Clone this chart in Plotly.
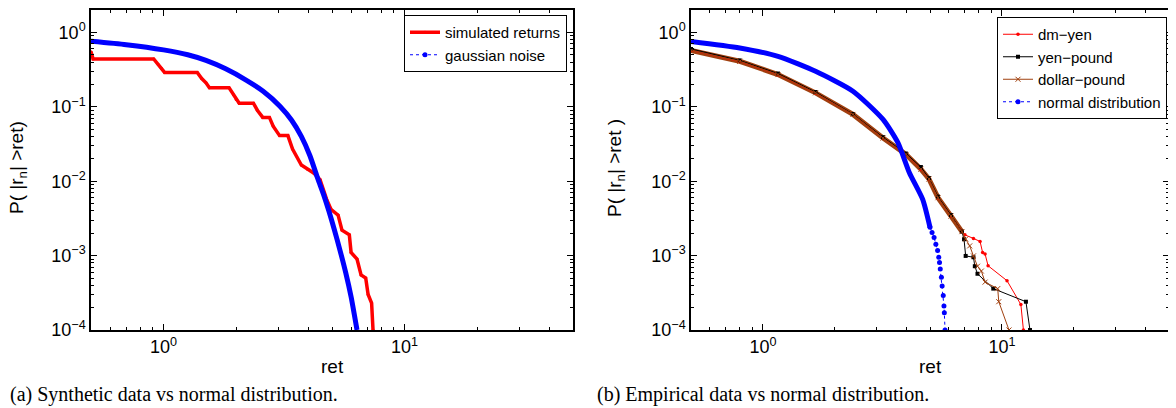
import plotly.graph_objects as go

# ---------------- data ----------------
# Panel (a): synthetic returns vs gaussian noise
sim_x = [0.5, 0.505, 0.51, 0.91, 0.95, 0.98, 1.01, 1.38, 1.44, 1.50, 1.55, 1.87, 1.95, 2.0, 2.06,
         2.36, 2.45, 2.58, 2.75, 2.85, 3.03, 3.28, 3.43, 3.73, 3.96, 4.21, 4.46, 4.75, 4.95, 5.3,
         5.5, 5.9, 6.0, 6.35, 6.6, 6.9, 7.06, 7.3, 7.4]
sim_p = [0.55, 0.50, 0.44, 0.44, 0.37, 0.33, 0.29, 0.29, 0.24, 0.21, 0.18, 0.18, 0.145, 0.125, 0.112,
         0.112, 0.09, 0.072, 0.072, 0.055, 0.041, 0.041, 0.027, 0.0165, 0.0145, 0.0128, 0.0105, 0.0057,
         0.0042, 0.0035, 0.0022, 0.0019, 0.0011, 0.0009, 0.00055, 0.0005, 0.0003, 0.00023, 0.0001]

gauss_x = [0.5, 0.7, 1.0, 1.26, 1.5, 1.81, 2.2, 2.59, 3.04, 3.4, 3.73, 4.05, 4.37, 4.6, 4.85,
           5.1, 5.4, 5.7, 6.0, 6.35]
gauss_p = [0.76, 0.684, 0.582, 0.50, 0.42, 0.324, 0.229, 0.162, 0.102, 0.066, 0.040, 0.022, 0.0107,
           0.0068, 0.0040, 0.0023, 0.00117, 0.00059, 0.00028, 0.0001]

# Panel (b): empirical FX returns vs normal distribution
dmyen_x = [0.5, 0.8, 1.156, 1.66, 2.38, 3.18, 3.97, 4.58, 4.95, 5.4, 6.12, 6.8, 7.0, 7.6, 8.1,
           8.3, 8.5, 8.75, 10.5, 12.0, 12.3]
dmyen_p = [0.57, 0.405, 0.27, 0.153, 0.079, 0.038, 0.0229, 0.0145, 0.0107, 0.006, 0.0034, 0.0021,
           0.0019, 0.0017, 0.00155, 0.0011, 0.00105, 0.00073, 0.00046, 0.00022, 0.0001]

yenpound_x = [0.5, 0.8, 1.156, 1.66, 2.38, 3.18, 3.97, 4.58, 4.95, 5.4, 6.12, 6.8, 6.94, 7.05,
              7.6, 7.7, 7.9, 9.2, 12.6, 13.1]
yenpound_p = [0.60, 0.42, 0.28, 0.158, 0.080, 0.039, 0.0235, 0.0155, 0.011, 0.0062, 0.0035, 0.0021,
              0.00166, 0.00099, 0.00095, 0.00072, 0.00057, 0.00036, 0.00024, 0.0001]

dollarpound_x = [0.5, 0.8, 1.156, 1.66, 2.38, 3.18, 3.97, 4.58, 4.95, 5.4, 6.12, 6.8, 7.05, 7.33,
                 7.6, 7.9, 8.2, 8.5, 9.6, 9.7, 10.7]
dollarpound_p = [0.57, 0.409, 0.271, 0.154, 0.079, 0.038, 0.0229, 0.0145, 0.0107, 0.006, 0.0034,
                 0.0021, 0.00167, 0.00135, 0.00099, 0.00072, 0.00062, 0.00044, 0.00036, 0.00024, 0.0001]

normal_x = [0.5, 0.8, 1.156, 1.66, 2.38, 3.18, 3.67, 4.10, 4.66, 5.0]
normal_p = [0.757, 0.618, 0.477, 0.30, 0.162, 0.0676, 0.0329, 0.0130, 0.0057, 0.0024]
normal_tail_x = [5.0, 5.10, 5.2, 5.29, 5.38, 5.44, 5.48, 5.52, 5.58, 5.62, 5.68, 5.72, 5.74, 5.78]
normal_tail_p = [0.0024, 0.00204, 0.00175, 0.00142, 0.00117, 0.00095, 0.00081, 0.00066, 0.00051,
                 0.00039, 0.00029, 0.00021, 0.00017, 0.0001]

# ticks
x_major = [1, 10]
x_major_text = ["10<sup>0</sup>", "10<sup>1</sup>"]
x_minor = [0.6, 0.7, 0.8, 0.9, 2, 3, 4, 5, 6, 7, 8, 9, 20, 30, 40]
y_major = [1e-4, 1e-3, 1e-2, 1e-1, 1]
y_major_text = ["10<sup>−4</sup>", "10<sup>−3</sup>", "10<sup>−2</sup>", "10<sup>−1</sup>", "10<sup>0</sup>"]
y_minor = [k * 10 ** d for d in range(-4, 0) for k in range(2, 10)] + [2]

captions = ["(a) Synthetic data vs normal distribution.", "(b) Empirical data vs normal distribution."]
ytitles = ["P( |r<sub>n</sub>| >ret)", "P( |r<sub>n</sub>| >ret )"]

# ---------------- figure ----------------
# the page body has an 8px margin, so the figure is 8px smaller and all
# screen positions below are shifted by -8
OFF = 8
W, H = 1176 - OFF, 408 - OFF
fig = go.Figure()

RED = "#ff0000"
BLUE = "#0000ff"
BROWN = "#a0400f"
N_BAND = 12  # dense part of the dollar-pound curve drawn as a thick band

# Panel (a)
fig.add_trace(go.Scatter(x=sim_x, y=sim_p, mode="lines+markers", name="simulated returns",
                         line=dict(color=RED, width=3.5), marker=dict(size=3, color=RED),
                         xaxis="x", yaxis="y", legend="legend"))
fig.add_trace(go.Scatter(x=gauss_x, y=gauss_p, mode="lines", showlegend=False,
                         line=dict(color=BLUE, width=5, shape="spline", smoothing=0.6),
                         xaxis="x", yaxis="y"))
fig.add_trace(go.Scatter(x=[None], y=[None], mode="lines+markers", name="gaussian noise",
                         line=dict(color=BLUE, width=1, dash="dot"), marker=dict(size=5, color=BLUE),
                         xaxis="x", yaxis="y", legend="legend"))

# Panel (b)
fig.add_trace(go.Scatter(x=dollarpound_x[:N_BAND], y=dollarpound_p[:N_BAND], mode="lines", showlegend=False,
                         line=dict(color=BROWN, width=5), xaxis="x2", yaxis="y2"))
fig.add_trace(go.Scatter(x=dmyen_x, y=dmyen_p, mode="lines+markers", name="dm−yen",
                         line=dict(color=RED, width=1), marker=dict(size=3.5, color=RED),
                         xaxis="x2", yaxis="y2", legend="legend2"))
fig.add_trace(go.Scatter(x=yenpound_x, y=yenpound_p, mode="lines+markers", name="yen−pound",
                         line=dict(color="black", width=1), marker=dict(size=4, color="black", symbol="square"),
                         xaxis="x2", yaxis="y2", legend="legend2"))
fig.add_trace(go.Scatter(x=dollarpound_x, y=dollarpound_p, mode="lines+markers", name="dollar−pound",
                         line=dict(color=BROWN, width=1), marker=dict(size=5, color=BROWN, symbol="x-thin",
                                                                      line=dict(color=BROWN, width=1)),
                         xaxis="x2", yaxis="y2", legend="legend2"))
fig.add_trace(go.Scatter(x=normal_x, y=normal_p, mode="lines", showlegend=False,
                         line=dict(color=BLUE, width=5, shape="spline", smoothing=0.6),
                         xaxis="x2", yaxis="y2"))
fig.add_trace(go.Scatter(x=normal_tail_x, y=normal_tail_p, mode="lines+markers", name="normal distribution",
                         line=dict(color=BLUE, width=1, dash="dot"), marker=dict(size=5, color=BLUE),
                         xaxis="x2", yaxis="y2", legend="legend2"))


def px(x):
    return (x - OFF) / W


def py(y):
    return 1 - (y - OFF) / H


ydom = [py(330), py(10)]
xdom1 = [px(91), px(573)]
xdom2 = [px(691), px(1169)]

tickfont = dict(family="Liberation Sans, Arial, sans-serif", size=18, color="black")


def xax(domain, anchor):
    return dict(type="log", domain=domain, anchor=anchor, range=[-0.30103, 1.69897],
                tickmode="array", tickvals=x_major, ticktext=x_major_text,
                ticks="inside", ticklen=6, tickwidth=1, tickcolor="black",
                minor=dict(tickmode="array", tickvals=x_minor, ticks="inside", ticklen=3,
                           tickcolor="black", showgrid=False),
                showline=True, linecolor="black", linewidth=1.5, mirror="ticks",
                showgrid=False, zeroline=False, tickfont=tickfont, automargin=False)


def yax(anchor):
    return dict(type="log", domain=ydom, anchor=anchor, range=[-4, 0.30103],
                tickmode="array", tickvals=y_major, ticktext=y_major_text,
                ticks="inside", ticklen=6, tickwidth=1, tickcolor="black",
                minor=dict(tickmode="array", tickvals=y_minor, ticks="inside", ticklen=3,
                           tickcolor="black", showgrid=False),
                showline=True, linecolor="black", linewidth=1.5, mirror="ticks",
                showgrid=False, zeroline=False, tickfont=tickfont, automargin=False)


legfont = dict(family="Liberation Sans, Arial, sans-serif", size=15, color="black")
labfont = dict(family="Liberation Sans, Arial, sans-serif", size=19, color="black")
capfont = dict(family="Liberation Serif, Times New Roman, serif", size=20, color="black")

annotations = [
    dict(text="ret", x=(xdom1[0] + xdom1[1]) / 2, y=py(366), xref="paper", yref="paper",
         showarrow=False, font=labfont, xanchor="center", yanchor="middle"),
    dict(text="ret", x=(xdom2[0] + xdom2[1]) / 2, y=py(366), xref="paper", yref="paper",
         showarrow=False, font=labfont, xanchor="center", yanchor="middle"),
    dict(text=ytitles[0], x=px(18), y=py(168), xref="paper", yref="paper", textangle=-90,
         showarrow=False, font=labfont, xanchor="center", yanchor="middle"),
    dict(text=ytitles[1], x=px(616), y=py(168), xref="paper", yref="paper", textangle=-90,
         showarrow=False, font=labfont, xanchor="center", yanchor="middle"),
    dict(text=captions[0], x=0, y=py(394), xref="paper", yref="paper",
         showarrow=False, font=capfont, xanchor="left", yanchor="middle"),
    dict(text=captions[1], x=px(595), y=py(394), xref="paper", yref="paper",
         showarrow=False, font=capfont, xanchor="left", yanchor="middle"),
]

fig.update_layout(
    width=W, height=H, margin=dict(l=0, r=0, t=0, b=0),
    paper_bgcolor="white", plot_bgcolor="white",
    xaxis=xax(xdom1, "y"), yaxis=yax("x"),
    xaxis2=xax(xdom2, "y2"), yaxis2=yax("x2"),
    legend=dict(x=px(567), y=py(15), xanchor="right", yanchor="top", bgcolor="white",
                bordercolor="black", borderwidth=1, font=legfont, tracegroupgap=0),
    legend2=dict(x=px(1167), y=py(17), xanchor="right", yanchor="top", bgcolor="white",
                 bordercolor="black", borderwidth=1, font=legfont, tracegroupgap=0),
    annotations=annotations,
    showlegend=True,
)

fig.write_html("out.html")
